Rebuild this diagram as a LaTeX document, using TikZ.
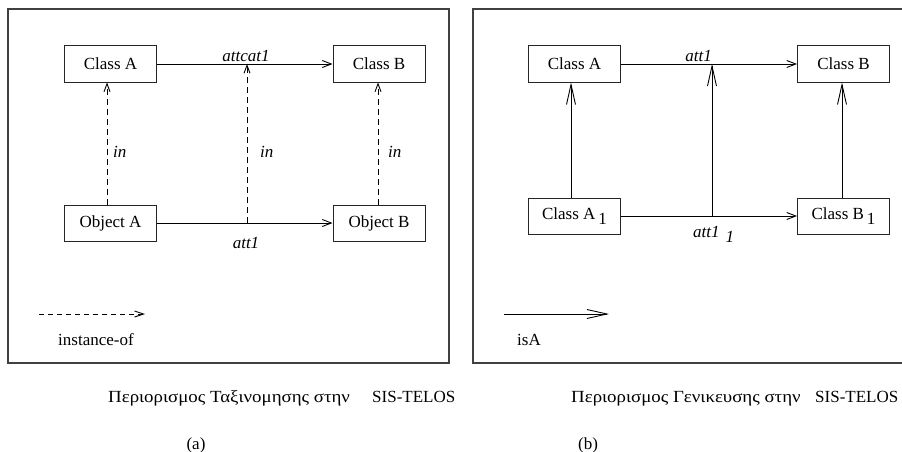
\documentclass[tikz,border=0pt]{standalone}
\usepackage{fontspec}
\setmainfont{Liberation Serif}
\usetikzlibrary{arrows.meta}
\begin{document}
\begin{tikzpicture}[x=1pt,y=-1pt,
  every node/.style={font=\fontsize{17}{20}\selectfont, inner sep=0pt},
  box/.style={draw=black!85, line width=1pt, minimum width=92pt, minimum height=36pt, anchor=center},
  lbl/.style={font=\fontsize{17}{20}\selectfont\itshape},
  frame/.style={draw=black!75, line width=1.3pt},
  conn/.style={line width=0.9pt},
  sarrow/.style={conn, -{Straight Barb[length=9pt,width=7pt]}},
  bigarrow/.style={conn, -{Straight Barb[length=20pt,width=9pt]}},
  dasharrow/.style={conn, dash pattern=on 6pt off 4pt, -{Straight Barb[length=8pt,width=6pt]}}
]
\useasboundingbox (0,0) rectangle (902,452);

% ---------- panel (a)
\draw[frame] (8,9) rectangle (449,363);
\node[box] (LCA) at (110.5,64) {Class A};
\node[box] (LCB) at (379,64) {Class B};
\node[box] (LOA) at (110.5,223) {Object A};
\node[box] (LOB) at (379,223) {Object B};
\draw[sarrow] (LCA) -- (LCB);
\draw[sarrow] (LOA) -- (LOB);
\coordinate (lmb) at (247,223);
\coordinate (lmt) at (247,64);
\draw[dasharrow] ([xshift=-3.5pt]LOA.north) -- ([xshift=-3.5pt]LCA.south);
\draw[dasharrow] (lmb) -- (lmt);
\draw[dasharrow] ([xshift=-1pt]LOB.north) -- ([xshift=-1pt]LCB.south);
\node[lbl, anchor=base] (lattcat) at (246,62) {attcat1};
\node[lbl, anchor=base] (latt) at (246,248) {att1};
\node[lbl, anchor=base west] (lin1) at (113,157) {in};
\node[lbl, anchor=base west] (lin2) at (260,157) {in};
\node[lbl, anchor=base west] (lin3) at (388,157) {in};
\coordinate (lgs) at (39,314);
\coordinate (lge) at (145,314);
\draw[conn, dash pattern=on 5pt off 4pt, -{Straight Barb[length=9pt,width=6pt]}] (lgs) -- (lge);
\node (linst) at (96,340) {instance-of};
\node[anchor=base west] (lcap1) at (108,402) {\scalebox{1.11}[1]{Περιορισμος Ταξινομησης στην}};
\node[anchor=base west] (lcap2) at (372,402) {SIS-TELOS};
\node (la) at (196,445) {(a)};

% ---------- panel (b)
\draw[frame] (902,9) -- (473,9) -- (473,363) -- (902,363);
\node[box] (RCA) at (574.5,64) {Class A};
\node[box] (RCB) at (843.5,64) {Class B};
\node[box] (RCA1) at (574.5,216) {Class A\hspace{3pt}\raisebox{-5pt}{1}};
\node[box] (RCB1) at (843.5,216) {Class B\hspace{3pt}\raisebox{-5pt}{1}};
\draw[sarrow] (RCA) -- (RCB);
\draw[sarrow] (RCA1) -- (RCB1);
\coordinate (rmb) at (712,216);
\coordinate (rmt) at (712,64);
\draw[bigarrow] ([xshift=-3.5pt]RCA1.north) -- ([xshift=-3.5pt]RCA.south);
\draw[bigarrow] (rmb) -- (rmt);
\draw[bigarrow] ([xshift=-1.5pt]RCB1.north) -- ([xshift=-1.5pt]RCB.south);
\node[lbl, anchor=base east] (ratt) at (712,62) {att1};
\node[lbl, anchor=base west] (ratt1) at (693,237) {att1\hspace{6pt}\raisebox{-5pt}{1}};
\coordinate (rgs) at (504,314);
\coordinate (rge) at (609,314);
\draw[bigarrow] (rgs) -- (rge);
\node (risa) at (529,340) {isA};
\node[anchor=base west] (rcap1) at (571,402) {\scalebox{1.11}[1]{Περιορισμος Γενικευσης στην}};
\node[anchor=base west] (rcap2) at (815,402) {SIS-TELOS};
\node (rb) at (588,445) {(b)};
\end{tikzpicture}
\end{document}
